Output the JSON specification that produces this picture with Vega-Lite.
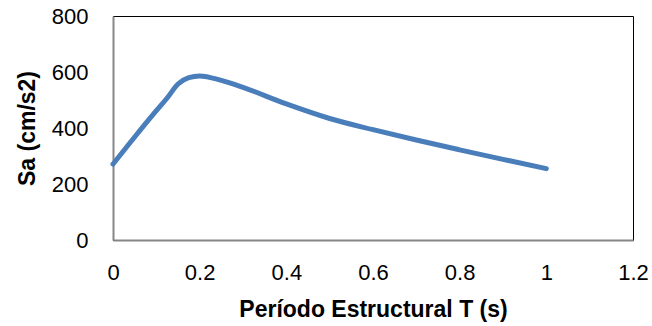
{
  "$schema": "https://vega.github.io/schema/vega-lite/v6.json",
  "width": 520,
  "height": 224,
  "autosize": {"type": "none"},
  "padding": {"left": 113, "top": 16, "right": 19, "bottom": 86},
  "background": "white",
  "config": {
    "font": "Liberation Sans",
    "view": {"stroke": "#000000", "strokeWidth": 1}
  },
  "data": {
    "values": [
      {"T": 0.0, "Sa": 271},
      {"T": 0.05, "Sa": 368},
      {"T": 0.1, "Sa": 462},
      {"T": 0.125, "Sa": 507},
      {"T": 0.15, "Sa": 557},
      {"T": 0.175, "Sa": 580},
      {"T": 0.2, "Sa": 586},
      {"T": 0.25, "Sa": 570},
      {"T": 0.3, "Sa": 545},
      {"T": 0.4, "Sa": 486},
      {"T": 0.5, "Sa": 434},
      {"T": 0.6, "Sa": 394},
      {"T": 0.7, "Sa": 357},
      {"T": 0.8, "Sa": 322},
      {"T": 0.9, "Sa": 288},
      {"T": 1.0, "Sa": 255}
    ]
  },
  "mark": {
    "type": "line",
    "interpolate": "monotone",
    "color": "#4a7ebb",
    "strokeWidth": 5,
    "strokeCap": "round",
    "strokeJoin": "round"
  },
  "encoding": {
    "x": {
      "field": "T",
      "type": "quantitative",
      "scale": {"domain": [0, 1.2], "nice": false, "zero": false},
      "axis": {
        "title": "Período Estructural T (s)",
        "values": [0, 0.2, 0.4, 0.6, 0.8, 1, 1.2],
        "format": "~g",
        "grid": false,
        "ticks": false,
        "domainColor": "#868686",
        "domainWidth": 2,
        "labelFont": "Liberation Sans",
        "labelFontSize": 22,
        "labelColor": "#000000",
        "labelPadding": 22,
        "labelFlush": false,
        "labelOverlap": false,
        "titleFont": "Liberation Sans",
        "titleFontSize": 23,
        "titleFontWeight": "bold",
        "titleColor": "#000000",
        "titlePadding": 15
      }
    },
    "y": {
      "field": "Sa",
      "type": "quantitative",
      "scale": {"domain": [0, 800], "nice": false},
      "axis": {
        "title": "Sa (cm/s2)",
        "values": [0, 200, 400, 600, 800],
        "grid": false,
        "ticks": false,
        "domainColor": "#868686",
        "domainWidth": 2,
        "labelFont": "Liberation Sans",
        "labelFontSize": 22,
        "labelColor": "#000000",
        "labelPadding": 25,
        "labelFlush": false,
        "labelOverlap": false,
        "titleFont": "Liberation Sans",
        "titleFontSize": 23,
        "titleFontWeight": "bold",
        "titleColor": "#000000",
        "titlePadding": 12
      }
    }
  }
}
